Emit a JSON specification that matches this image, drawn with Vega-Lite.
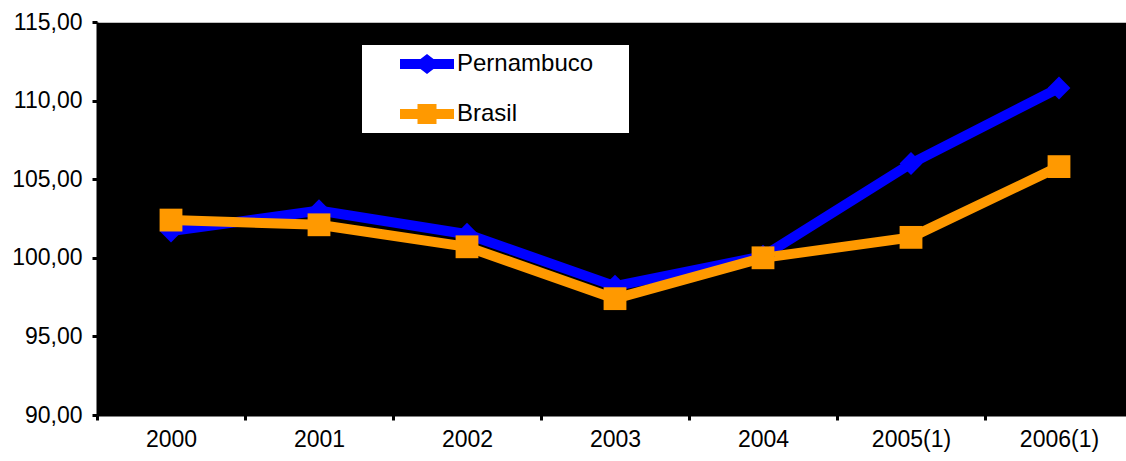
{
  "$schema": "https://vega.github.io/schema/vega-lite/v6.json",
  "autosize": {"type": "none"},
  "padding": {"left": 97, "top": 22, "right": 0, "bottom": 46},
  "width": 1029,
  "height": 393,
  "background": "white",
  "data": {
    "values": [
      {"ano": "2000", "serie": "Pernambuco", "indice": 101.7},
      {"ano": "2001", "serie": "Pernambuco", "indice": 103.0},
      {"ano": "2002", "serie": "Pernambuco", "indice": 101.5},
      {"ano": "2003", "serie": "Pernambuco", "indice": 98.2},
      {"ano": "2004", "serie": "Pernambuco", "indice": 100.1},
      {"ano": "2005(1)", "serie": "Pernambuco", "indice": 106.0},
      {"ano": "2006(1)", "serie": "Pernambuco", "indice": 110.8},
      {"ano": "2000", "serie": "Brasil", "indice": 102.4},
      {"ano": "2001", "serie": "Brasil", "indice": 102.1},
      {"ano": "2002", "serie": "Brasil", "indice": 100.7},
      {"ano": "2003", "serie": "Brasil", "indice": 97.4},
      {"ano": "2004", "serie": "Brasil", "indice": 100.0},
      {"ano": "2005(1)", "serie": "Brasil", "indice": 101.3},
      {"ano": "2006(1)", "serie": "Brasil", "indice": 105.8}
    ]
  },
  "encoding": {
    "x": {
      "field": "ano",
      "type": "ordinal",
      "sort": null,
      "scale": {"type": "band", "paddingInner": 0, "paddingOuter": 0, "range": [0, 1036]},
      "axis": {
        "title": null,
        "labelAngle": 0,
        "tickBand": "extent",
        "ticks": true,
        "tickSize": 5,
        "tickWidth": 3,
        "tickColor": "black",
        "domainColor": "black",
        "domainWidth": 2,
        "labelPadding": 8,
        "labelFontSize": 23,
        "labelFont": "Liberation Sans",
        "labelColor": "black",
        "grid": false
      }
    },
    "y": {
      "field": "indice",
      "type": "quantitative",
      "scale": {"domain": [90, 115], "nice": false, "zero": false},
      "axis": {
        "title": null,
        "values": [90, 95, 100, 105, 110, 115],
        "labelExpr": "replace(format(datum.value, '.2f'), '.', ',')",
        "tickSize": 5,
        "tickWidth": 3,
        "tickColor": "black",
        "domainColor": "black",
        "domainWidth": 2,
        "labelPadding": 10,
        "labelFontSize": 23,
        "labelFont": "Liberation Sans",
        "labelColor": "black",
        "grid": false
      }
    },
    "color": {
      "field": "serie",
      "type": "nominal",
      "sort": ["Pernambuco", "Brasil"],
      "scale": {"domain": ["Pernambuco", "Brasil"], "range": ["#0000FF", "#FF9900"]},
      "legend": {
        "title": null,
        "orient": "none",
        "legendX": 265,
        "legendY": 23,
        "fillColor": "white",
        "strokeColor": null,
        "padding": 7,
        "symbolSize": 400,
        "symbolStrokeWidth": 0,
        "symbolOffset": 46,
        "labelOffset": 18,
        "rowPadding": 26,
        "labelFontSize": 24,
        "labelFont": "Liberation Sans",
        "labelColor": "black",
        "encode": {
          "symbols": {
            "update": {
              "shape": {"signal": "datum.value === 'Pernambuco' ? 'M-2.7,-0.5H-0.65L0,-1L0.65,-0.5H2.7V0.5H0.65L0,1L-0.65,0.5H-2.7Z M19.5,0' : 'M-2.7,-0.5H-0.95V-1H0.95V-0.5H2.7V0.5H0.95V1H-0.95V0.5H-2.7Z M19.5,0'"},
              "fill": {"signal": "datum.value === 'Pernambuco' ? '#0000FF' : '#FF9900'"},
              "opacity": {"value": 1}
            }
          }
        }
      }
    }
  },
  "layer": [
    {"mark": {"type": "line", "strokeWidth": 10}},
    {
      "transform": [{"filter": "datum.serie === 'Pernambuco'"}],
      "mark": {"type": "point", "filled": true, "size": 520, "opacity": 1, "shape": "diamond"}
    },
    {
      "transform": [{"filter": "datum.serie === 'Brasil'"}],
      "mark": {"type": "point", "filled": true, "size": 520, "opacity": 1, "shape": "square"}
    }
  ],
  "config": {
    "view": {"fill": "black", "stroke": "#c0c0c0", "strokeWidth": 1}
  }
}
